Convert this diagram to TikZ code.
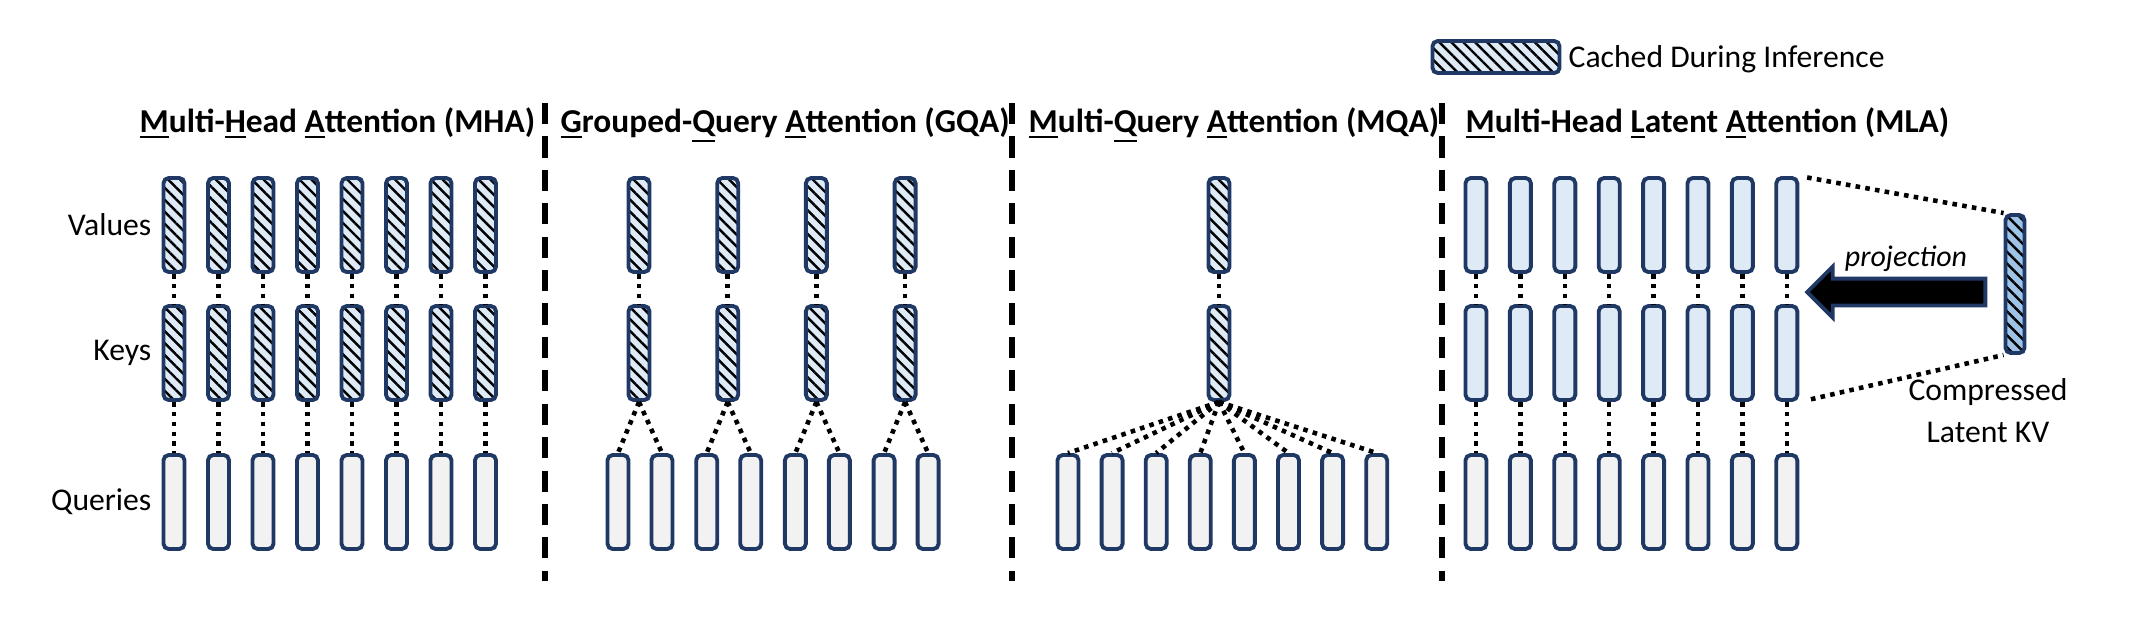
\documentclass[tikz,border=0pt]{standalone}
\usepackage{fontspec}
\setmainfont{Carlito}
\usetikzlibrary{patterns.meta,shapes.arrows}
\definecolor{navy}{HTML}{1F3864}
\definecolor{kvblue}{HTML}{DEEBF7}
\definecolor{latblue}{HTML}{9DC3E6}
\definecolor{qgrey}{HTML}{F2F2F2}

\begin{document}
\begin{tikzpicture}[
    x=0.01cm, y=-0.01cm,
    head/.style={rectangle, draw=navy, line width=1.1pt, rounded corners=1.5pt, minimum width=0.21cm, minimum height=0.94cm, inner sep=0pt},
    kv/.style={head, preaction={fill=kvblue}, pattern={Lines[angle=-45,distance=2.4pt,line width=0.7pt]}, pattern color=black},
    latent/.style={kv, preaction={fill=latblue}},
    plain/.style={head, fill=kvblue},
    qry/.style={head, fill=qgrey},
    link/.style={line width=1.3pt, dash pattern=on 1.3pt off 1.5pt},
    sep/.style={line width=1.6pt, dash pattern=on 6pt off 3.5pt},
    title/.style={font=\bfseries\fontsize{9.5}{11}\selectfont, anchor=base west, inner sep=0pt},
    rowlabel/.style={font=\fontsize{9}{11}\selectfont, anchor=east, inner sep=0pt}
]
\useasboundingbox (0,0) rectangle (2138,620);

% Legend
\node[kv, minimum width=1.27cm, minimum height=0.32cm] (legend) at (1496,57) {};
\node[anchor=west, inner sep=0pt, font=\fontsize{9}{11}\selectfont] (legendtxt) at (1568,59) {Cached During Inference};

% Titles
\node[title] (tmha) at (139,132) {\underline{M}ulti-\underline{H}ead \underline{A}ttention (MHA)};
\node[title] (tgqa) at (560,132) {\underline{G}rouped-\underline{Q}uery \underline{A}ttention (GQA)};
\node[title] (tmqa) at (1028,132) {\underline{M}ulti-\underline{Q}uery \underline{A}ttention (MQA)};
\node[title] (tmla) at (1465,132) {\underline{M}ulti-Head \underline{L}atent \underline{A}ttention (MLA)};

% Row labels
\node[rowlabel] (lval) at (152,225) {Values};
\node[rowlabel] (lkey) at (152,353) {Keys};
\node[rowlabel] (lqry) at (152,502) {Queries};

% Separators
\coordinate (s1a) at (545,103); \coordinate (s1b) at (545,581);
\coordinate (s2a) at (1012,103); \coordinate (s2b) at (1012,581);
\coordinate (s3a) at (1442,103); \coordinate (s3b) at (1442,581);
\draw[sep] (s1a) -- (s1b);
\draw[sep] (s2a) -- (s2b);
\draw[sep] (s3a) -- (s3b);

% MHA
\foreach \i in {1,...,8}{
    \pgfmathsetmacro\x{174+44.5*(\i-1)}
    \node[kv] (mhaV\i) at (\x,225) {};
    \node[kv] (mhaK\i) at (\x,353) {};
    \node[qry] (mhaQ\i) at (\x,502) {};
    \draw[link] (mhaV\i) -- (mhaK\i);
    \draw[link] (mhaK\i) -- (mhaQ\i);
}

% GQA
\foreach \j in {1,...,4}{
    \pgfmathsetmacro\x{639+88.7*(\j-1)}
    \node[kv] (gqaV\j) at (\x,225) {};
    \node[kv] (gqaK\j) at (\x,353) {};
    \node[qry] (gqaQa\j) at (\x-21,502) {};
    \node[qry] (gqaQb\j) at (\x+23,502) {};
    \draw[link] (gqaV\j) -- (gqaK\j);
    \draw[link] (gqaK\j.south) -- (gqaQa\j.north);
    \draw[link] (gqaK\j.south) -- (gqaQb\j.north);
}

% MQA
\node[kv] (mqaV) at (1219,225) {};
\node[kv] (mqaK) at (1219,353) {};
\draw[link] (mqaV) -- (mqaK);
\foreach \i in {1,...,8}{
    \pgfmathsetmacro\x{1068+44.1*(\i-1)}
    \node[qry] (mqaQ\i) at (\x,502) {};
    \draw[link] (mqaK.south) -- (mqaQ\i.north);
}

% MLA
\foreach \i in {1,...,8}{
    \pgfmathsetmacro\x{1476+44.4*(\i-1)}
    \node[plain] (mlaV\i) at (\x,225) {};
    \node[plain] (mlaK\i) at (\x,353) {};
    \node[qry] (mlaQ\i) at (\x,502) {};
    \draw[link] (mlaV\i) -- (mlaK\i);
    \draw[link] (mlaK\i) -- (mlaQ\i);
}
\node[latent, minimum width=0.19cm, minimum height=1.38cm] (lat) at (2015,284) {};
\draw[link, shorten <=0.08cm] (mlaV8.north east) -- (lat.north west);
\draw[link, shorten <=0.12cm] (mlaK8.south east) -- (lat.south west);

% Projection arrow
\node[single arrow, shape border rotate=180, draw=navy, line width=1.1pt, fill=black, minimum height=1.78cm, inner xsep=0pt, inner ysep=0.115cm, single arrow head extend=0.12cm] (proj) at (1903,292) {};
\node[font=\itshape\fontsize{8.5}{10}\selectfont] (projtxt) at (1906,259) {projection};
\node[align=center, font=\fontsize{9}{11}\selectfont, inner sep=0pt] (lattxt) at (1988,411) {Compressed\\[1pt]Latent KV};

\end{tikzpicture}
\end{document}
